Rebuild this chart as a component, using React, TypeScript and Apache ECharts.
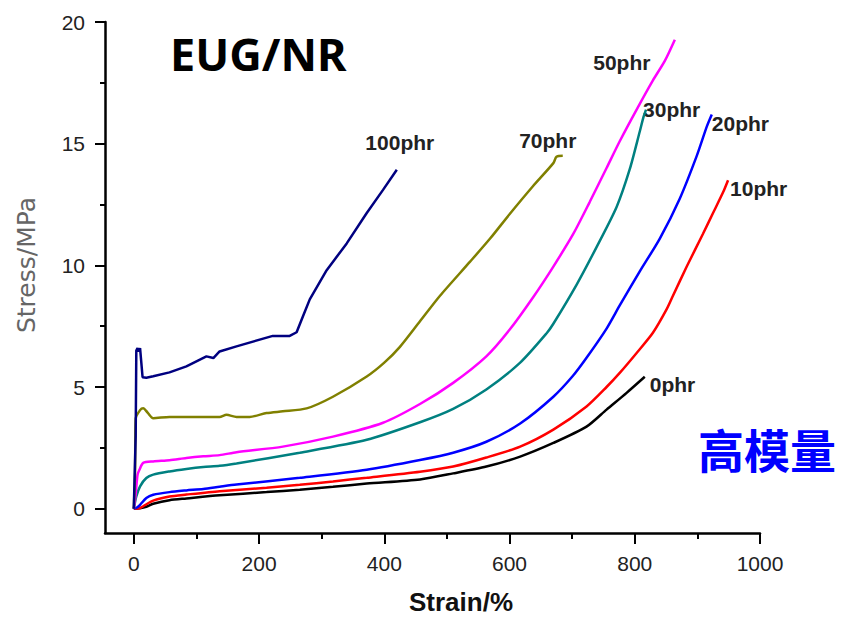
import React, { useEffect, useRef } from "react";
import * as echarts from "echarts";

type Pt = [number, number];

// Stress–strain curves of EUG/NR compounds (strain %, stress MPa)
const phr0: Pt[] = [
  [0, 0], [10, 0.02], [20, 0.08], [31, 0.2], [57, 0.35], [84, 0.42], [137, 0.55],
  [212, 0.68], [265, 0.78], [318, 0.9], [372, 1.03], [457, 1.2], [510, 1.45],
  [563, 1.73], [617, 2.14], [670, 2.7], [723, 3.37], [755, 4.07], [787, 4.76], [816, 5.42],
];
const phr10: Pt[] = [
  [0, 0], [10, 0.03], [15, 0.1], [31, 0.33], [57, 0.5], [84, 0.58], [137, 0.72],
  [212, 0.86], [265, 0.98], [318, 1.12], [372, 1.27], [457, 1.52], [510, 1.73],
  [563, 2.1], [617, 2.55], [670, 3.25], [723, 4.2], [755, 5.0], [776, 5.58], [803, 6.4],
  [829, 7.23], [851, 8.2], [861, 8.75], [883, 9.95], [909, 11.3], [925, 12.15],
  [941, 13.0], [949, 13.5],
];
const phr20: Pt[] = [
  [0, 0], [5, 0.05], [10, 0.16], [20, 0.44], [31, 0.57], [57, 0.68], [84, 0.75],
  [111, 0.81], [137, 0.9], [164, 0.99], [265, 1.27], [372, 1.6], [457, 2.0], [510, 2.3],
  [563, 2.75], [617, 3.5], [670, 4.6], [701, 5.45], [723, 6.2], [755, 7.4], [776, 8.35],
  [808, 9.75], [840, 11.1], [872, 12.75], [899, 14.5], [915, 15.7], [923, 16.2],
];
const phr30: Pt[] = [
  [0, 0], [4, 0.5], [10, 0.92], [20, 1.26], [31, 1.4], [57, 1.53], [84, 1.63],
  [111, 1.71], [137, 1.76], [164, 1.86], [265, 2.3], [372, 2.83], [457, 3.55],
  [510, 4.1], [563, 4.9], [617, 6.0], [659, 7.2], [670, 7.6], [707, 9.2],
  [739, 10.75], [771, 12.4], [792, 13.95], [808, 15.5], [814, 16.1], [818, 16.4],
];
const phr50: Pt[] = [
  [0, 0], [3, 0.6], [6, 1.4], [9, 1.6], [15, 1.88], [31, 1.94], [57, 1.99], [84, 2.08],
  [111, 2.15], [137, 2.2], [164, 2.32], [238, 2.55], [318, 2.96], [398, 3.53],
  [457, 4.3], [510, 5.17], [563, 6.26], [600, 7.35], [638, 8.7], [670, 9.95],
  [702, 11.3], [728, 12.6], [755, 14.0], [776, 15.1], [803, 16.4], [829, 17.6],
  [848, 18.4], [864, 19.27],
];
const phr70: Pt[] = [
  [0, 0], [2, 1.5], [3, 3.7], [10, 4.05], [15, 4.13], [22, 3.95], [31, 3.72], [57, 3.77],
  [137, 3.77], [148, 3.86], [164, 3.77], [185, 3.77], [212, 3.93], [238, 4.0],
  [276, 4.12], [318, 4.6], [372, 5.43], [400, 6.0], [425, 6.65], [457, 7.7], [489, 8.75],
  [537, 10.15], [569, 11.1], [600, 12.1], [637, 13.24], [670, 14.2], [675, 14.46],
  [685, 14.5],
];
const phr100: Pt[] = [
  [0, 0], [3, 3.0], [4, 6.5], [6, 6.6], [8, 6.45], [10, 6.6], [12, 6.0], [14, 5.4],
  [20, 5.38], [31, 5.44], [57, 5.6], [84, 5.85], [116, 6.26], [127, 6.19], [137, 6.46],
  [164, 6.67], [222, 7.1], [249, 7.1], [260, 7.25], [270, 7.9], [281, 8.6], [308, 9.8],
  [340, 10.9], [372, 12.15], [398, 13.1], [420, 13.93],
];

const SERIES_NAMES = ["0phr", "10phr", "20phr", "30phr", "50phr", "70phr", "100phr"];
const SERIES_DATA = [phr0, phr10, phr20, phr30, phr50, phr70, phr100];

const X_TICKS = [0, 200, 400, 600, 800, 1000];
const X_MINOR = [100, 300, 500, 700, 900];
const Y_TICKS = [0, 5, 10, 15, 20];
const Y_MINOR = [2.5, 7.5, 12.5, 17.5];

const TITLE = "EUG/NR";
const NOTE = "高模量";
const X_NAME = "Strain/%";
const Y_NAME = "Stress/MPa";

// Line colours and end-label placement for each curve
const COLORS = ["#000000", "#ff0000", "#0000ff", "#008080", "#ff00ff", "#808000", "#000080"];
const END_LABEL: { align: "left" | "center"; offset: [number, number] }[] = [
  { align: "left", offset: [5, 8] },
  { align: "left", offset: [2, 8] },
  { align: "left", offset: [0, 9] },
  { align: "left", offset: [-3, 0] },
  { align: "center", offset: [-53, 23] },
  { align: "center", offset: [-15, -15] },
  { align: "center", offset: [3, -27] },
];

const TICK_FONT = {
  fontFamily: "'Liberation Sans', Arial, sans-serif",
  fontSize: 21,
  color: "#222",
};

const plain = (v: number) => String(v);

export default function App() {
  const ref = useRef<HTMLDivElement>(null);

  useEffect(() => {
    if (!ref.current) return;
    const chart = echarts.init(ref.current, undefined, { renderer: "svg" });

    const series: any[] = SERIES_DATA.map((data, i) => {
      const last = data[data.length - 1];
      return {
        name: SERIES_NAMES[i],
        type: "line",
        data,
        xAxisIndex: 0,
        yAxisIndex: 0,
        showSymbol: false,
        symbol: "none",
        smooth: i === 6 ? false : 0.25,
        lineStyle: { color: COLORS[i], width: 2.5 },
        z: 2 + i,
        markPoint: {
          symbol: "circle",
          symbolSize: 0,
          silent: true,
          data: [
            {
              coord: last,
              label: {
                show: true,
                position: "inside",
                formatter: SERIES_NAMES[i],
                align: END_LABEL[i].align,
                verticalAlign: "middle",
                offset: END_LABEL[i].offset,
                fontFamily: "'Liberation Sans', Arial, sans-serif",
                fontWeight: "bold",
                fontSize: 21,
                color: "#222",
              },
            },
          ],
        },
      };
    });

    const baseX = {
      type: "value",
      gridIndex: 0,
      position: "bottom",
      min: -46,
      max: 1000,
      splitLine: { show: false },
    };
    const baseY = {
      type: "value",
      gridIndex: 0,
      position: "left",
      min: -1,
      max: 20,
      splitLine: { show: false },
    };

    chart.setOption({
      animation: false,
      backgroundColor: "#ffffff",
      grid: { left: 105, right: 81, top: 22, bottom: 85, containLabel: false },
      xAxis: [
        {
          ...baseX,
          axisLine: { show: true, onZero: false, lineStyle: { color: "#000", width: 2.5 } },
          axisTick: { show: true, customValues: X_TICKS, length: 11, lineStyle: { color: "#000", width: 2 } },
          axisLabel: { show: true, customValues: X_TICKS, margin: 20, formatter: plain, ...TICK_FONT },
        },
        {
          ...baseX,
          axisLine: { show: false, onZero: false },
          axisTick: { show: true, customValues: X_MINOR, length: 6, lineStyle: { color: "#000", width: 2 } },
          axisLabel: { show: false },
        },
      ],
      yAxis: [
        {
          ...baseY,
          axisLine: { show: true, onZero: false, lineStyle: { color: "#000", width: 2.5 } },
          axisTick: { show: true, customValues: Y_TICKS, length: 10, lineStyle: { color: "#000", width: 2 } },
          axisLabel: { show: true, customValues: Y_TICKS, margin: 20, formatter: plain, ...TICK_FONT },
        },
        {
          ...baseY,
          axisLine: { show: false, onZero: false },
          axisTick: { show: true, customValues: Y_MINOR, length: 5, lineStyle: { color: "#000", width: 2 } },
          axisLabel: { show: false },
        },
      ],
      series,
      graphic: [
        {
          type: "text",
          x: 170,
          y: 53,
          style: {
            text: TITLE,
            fontFamily: "'Noto Sans', 'Open Sans', sans-serif",
            fontWeight: "bold",
            fontSize: 45,
            fill: "#000",
            align: "left",
            verticalAlign: "middle",
          },
        },
        {
          type: "text",
          x: 767,
          y: 448,
          style: {
            text: NOTE,
            fontFamily: "'Noto Sans CJK SC', sans-serif",
            fontWeight: "bold",
            fontSize: 46,
            fill: "#0000ff",
            align: "center",
            verticalAlign: "middle",
          },
        },
        {
          type: "text",
          x: 461,
          y: 602,
          style: {
            text: X_NAME,
            fontFamily: "'Liberation Sans', Arial, sans-serif",
            fontWeight: "bold",
            fontSize: 26,
            fill: "#111",
            align: "center",
            verticalAlign: "middle",
          },
        },
        {
          type: "text",
          x: 26,
          y: 265,
          rotation: Math.PI / 2,
          style: {
            text: Y_NAME,
            fontFamily: "'DejaVu Sans', sans-serif",
            fontSize: 25,
            fill: "#666",
            align: "center",
            verticalAlign: "middle",
          },
        },
      ],
    });

    return () => chart.dispose();
  }, []);

  return <div ref={ref} style={{ width: 841, height: 618, position: "absolute", left: 0, top: 0 }} />;
}
